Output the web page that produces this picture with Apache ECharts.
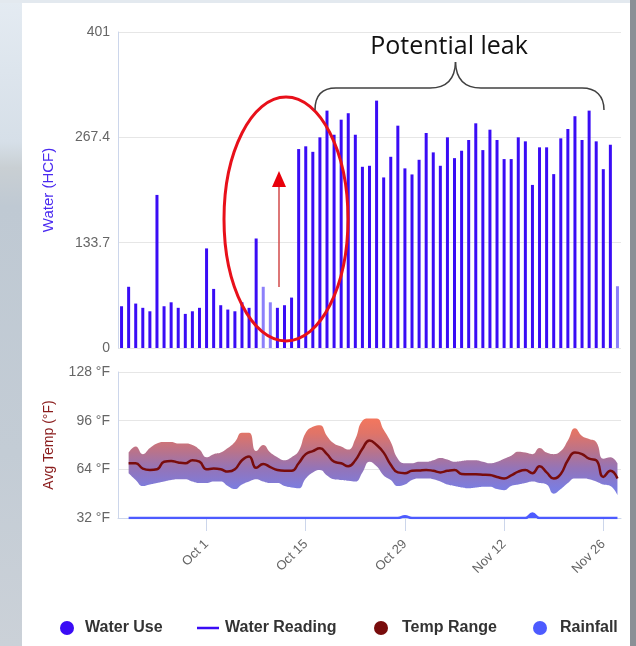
<!DOCTYPE html>
<html>
<head>
<meta charset="utf-8">
<title>Water use vs temperature</title>
<script src="https://cdn.jsdelivr.net/npm/echarts@6/dist/echarts.min.js"></script>
<style>
  html, body { margin: 0; padding: 0; background: #fff; }
  #chart { width: 636px; height: 646px; }
</style>
</head>
<body>
<div id="chart"></div>
<script>
// ---- data ----
// one bar per day, Sep 19 .. Nov 28
var startDay = new Date(2017, 8, 19);
var dayCount = 71;
var monthNames = ['Jan','Feb','Mar','Apr','May','Jun','Jul','Aug','Sep','Oct','Nov','Dec'];
var days = [];
for (var d = 0; d < dayCount; d++) {
  var dt = new Date(startDay.getTime() + d * 86400000);
  days.push(monthNames[dt.getMonth()] + ' ' + dt.getDate());
}
// dates that get a tick + label on the x axis
var dayLabels = ['Oct 1', 'Oct 15', 'Oct 29', 'Nov 12', 'Nov 26'];

// water use (HCF)
var waterUse = [53, 77.7, 56.4, 51, 46.6, 194.3, 53, 58, 51, 43.3, 46.6, 51, 126.4, 75, 54.3, 48.8, 46.6, 58, 51, 139,
  77.7, 58, 51, 54.3, 64, 252.5, 256, 249, 267.4, 301.3, 270.7, 289.8, 298, 270.7, 230, 231.3, 314, 216.5, 242.7, 282.2,
  228, 220.3, 238.9, 272.9, 248.3, 231.3, 267.4, 241, 250.4, 264, 285.2, 251.2, 277.1, 264, 239.8, 239.8, 267.4, 262.3, 207, 254.7,
  254.7, 220.7, 266.1, 278, 294.2, 264, 301.3, 262.3, 227, 258, 78.4];
// days drawn faded in the original
var fadedDays = [20, 21, 70];
// water reading series (shown in legend only)
var waterReading = [];

// temperatures (°F), no reading on the first day
var tempAvg = [null, 68, 68, 64.5, 63.6, 64, 69, 69.5, 68.5, 68, 70, 69, 64, 64.5, 64, 62.5, 64, 70, 72.5, 65, 67.5,
  65.5, 63.5, 63, 63, 68, 74, 76, 77.8, 74, 69, 68, 66, 70, 77.5, 83, 80, 75, 67, 62, 61.5,
  63, 63.3, 63.6, 63, 62, 63, 63.6, 61, 60.7, 60.7, 60.5, 60.2, 59, 58, 60, 62.5, 63.5, 61.5, 66, 62,
  58, 61, 70, 75, 74, 71, 70, 59, 63, 58];
var tempHigh = [null, 75, 79, 74, 78, 81, 82, 82, 81, 81, 80, 77, 72, 74, 75, 78, 82, 88, 88, 76, 80,
  75, 72, 70, 72, 76, 88, 92, 93, 86, 81, 79, 77, 84, 96, 97.5, 97.5, 90, 82, 71, 68,
  68, 69, 69, 70, 71.5, 70.5, 69, 69.5, 70, 70, 69, 68, 69, 71, 73, 75.6, 75, 74, 78, 75,
  74, 76, 83, 91, 86, 84, 82, 71, 72, 68];
var tempLow = [null, 61.4, 57, 53, 54, 55, 56, 57, 57.5, 57.5, 56, 55, 55, 56, 56, 53, 51, 54, 56, 57.5, 56,
  55, 55, 53, 52, 51.5, 58, 62, 63.6, 60, 57.5, 57, 56.5, 56, 62, 69, 66, 60, 57, 53, 54,
  57, 58, 58, 57.5, 56, 54, 53, 52, 51.5, 52, 52.5, 52.6, 51, 50.3, 53, 54, 55, 56, 55, 54,
  48, 51, 55, 58, 58, 57.5, 56, 54, 53, 47];
// rainfall (in)
var rainfall = [null, 0, 0, 0, 0, 0, 0, 0, 0, 0, 0, 0, 0, 0, 0, 0, 0, 0, 0, 0, 0,
  0, 0, 0, 0, 0, 0, 0, 0, 0, 0, 0, 0, 0, 0, 0, 0, 0, 0, 0, 0.05,
  0, 0, 0, 0, 0, 0, 0, 0, 0, 0, 0, 0, 0, 0, 0, 0, 0, 0.12, 0, 0,
  0, 0, 0, 0, 0, 0, 0, 0, 0, 0];

var waterTicks = ['0', '133.7', '267.4', '401'];
var tempTicks = ['32 °F', '64 °F', '96 °F', '128 °F'];

// band height for the stacked range area
var tempSpan = tempHigh.map(function (v, i) {
  return v == null ? null : +(v - tempLow[i]).toFixed(1);
});

var blue = '#3a0cf5';
var darkRed = '#780c0c';
var rainBlue = '#4d5bff';
var axisGrey = '#ccd6eb';
var labelStyle = { color: '#666', fontSize: 14, fontFamily: 'Liberation Sans, Arial, sans-serif' };
var legendText = { color: '#333', fontSize: 16, fontWeight: 'bold' };

var myChart = echarts.init(document.getElementById('chart'));

var option = {
  backgroundColor: '#fff',
  animation: false,
  textStyle: { fontFamily: 'Liberation Sans, Arial, sans-serif' },
  grid: [
    { left: 118, right: 15, top: 32, height: 316 },
    { left: 118, right: 15, top: 372, height: 146 }
  ],
  xAxis: [
    {
      type: 'category', gridIndex: 0, data: days,
      axisLine: { show: false }, axisTick: { show: false }, axisLabel: { show: false }
    },
    {
      type: 'category', gridIndex: 1, data: days,
      axisLine: { show: true, lineStyle: { color: axisGrey } },
      axisTick: {
        show: true, alignWithLabel: true, length: 13,
        lineStyle: { color: axisGrey },
        interval: function (idx, val) { return dayLabels.indexOf(val) >= 0; }
      },
      axisLabel: {
        show: true, rotate: 45, margin: 24,
        color: '#666', fontSize: 13,
        interval: function (idx, val) { return dayLabels.indexOf(val) >= 0; }
      }
    }
  ],
  yAxis: [
    {
      type: 'value', gridIndex: 0, min: 0, max: 401.1, interval: 133.7,
      name: 'Water (HCF)', nameLocation: 'middle', nameGap: 62, nameRotate: 90,
      nameTextStyle: { color: '#4a2af0', fontSize: 15 },
      axisLine: { show: true, lineStyle: { color: axisGrey } },
      axisTick: { show: false },
      axisLabel: Object.assign({ margin: 8, formatter: function (v, i) { return waterTicks[i]; } }, labelStyle),
      splitLine: { lineStyle: { color: '#e6e6e6' } }
    },
    {
      type: 'value', gridIndex: 1, min: 32, max: 128, interval: 32,
      name: 'Avg Temp (°F)', nameLocation: 'middle', nameGap: 62, nameRotate: 90,
      nameTextStyle: { color: '#8a1c1c', fontSize: 14 },
      axisLine: { show: true, lineStyle: { color: axisGrey } },
      axisTick: { show: false },
      axisLabel: Object.assign({ margin: 8, formatter: function (v, i) { return tempTicks[i]; } }, labelStyle),
      splitLine: { lineStyle: { color: '#e6e6e6' } }
    },
    {
      // rainfall, hidden scale
      type: 'value', gridIndex: 1, min: 0, max: 4, show: false,
      splitLine: { show: false }
    }
  ],
  legend: [
    {
      left: 60, top: 620, padding: 0,
      data: [{ name: 'Water Use', icon: 'circle', itemStyle: { color: blue } }],
      itemWidth: 14, itemHeight: 14,
      textStyle: Object.assign({ padding: [0, 0, 0, 6] }, legendText)
    },
    {
      left: 197, top: 620, padding: 0,
      data: [{ name: 'Water Reading', icon: 'path://M0,0 L22,0 L22,2.5 L0,2.5 Z' }],
      itemWidth: 22, itemHeight: 14,
      textStyle: Object.assign({ padding: [0, 0, 0, 1] }, legendText)
    },
    {
      left: 374, top: 620, padding: 0,
      data: [{ name: 'Temp Range', icon: 'circle' }],
      itemWidth: 14, itemHeight: 14,
      textStyle: Object.assign({ padding: [0, 0, 0, 9] }, legendText)
    },
    {
      left: 533, top: 620, padding: 0,
      data: [{ name: 'Rainfall', icon: 'circle' }],
      itemWidth: 14, itemHeight: 14,
      textStyle: Object.assign({ padding: [0, 0, 0, 8] }, legendText)
    }
  ],
  series: [
    {
      name: 'Water Use', type: 'bar', xAxisIndex: 0, yAxisIndex: 0,
      data: waterUse, barWidth: 3,
      itemStyle: {
        color: function (p) { return fadedDays.indexOf(p.dataIndex) >= 0 ? '#8c80fa' : blue; }
      }
    },
    {
      name: 'Water Reading', type: 'line', xAxisIndex: 0, yAxisIndex: 0,
      data: waterReading, showSymbol: false, itemStyle: { color: blue }
    },
    {
      name: 'Temp Low', type: 'line', xAxisIndex: 1, yAxisIndex: 1,
      data: tempLow, stack: 'band', smooth: true, symbol: 'none',
      lineStyle: { width: 0, opacity: 0 }, silent: true
    },
    {
      name: 'Temp Range', type: 'line', xAxisIndex: 1, yAxisIndex: 1,
      data: tempSpan, stack: 'band', smooth: true, symbol: 'none',
      itemStyle: { color: darkRed },
      lineStyle: { width: 0, opacity: 0 },
      areaStyle: {
        opacity: 1,
        color: {
          type: 'linear', x: 0, y: 372, x2: 0, y2: 518, global: true,
          colorStops: [
            { offset: 0.3, color: '#f7775c' },
            { offset: 0.42, color: '#e07468' },
            { offset: 0.55, color: '#b7738d' },
            { offset: 0.66, color: '#9474b8' },
            { offset: 0.8, color: '#7b7de0' },
            { offset: 1, color: '#707cf0' }
          ]
        }
      }
    },
    {
      name: 'Avg Temp', type: 'line', xAxisIndex: 1, yAxisIndex: 1,
      data: tempAvg, smooth: true, symbol: 'none', z: 4,
      lineStyle: { color: darkRed, width: 2.5 }, itemStyle: { color: darkRed }
    },
    {
      name: 'Rainfall', type: 'line', xAxisIndex: 1, yAxisIndex: 2,
      data: rainfall, smooth: true, symbol: 'none', z: 5,
      lineStyle: { color: rainBlue, width: 2.5 },
      itemStyle: { color: rainBlue },
      areaStyle: { color: rainBlue, opacity: 1 }
    }
  ],
  graphic: [
    // page backdrop around the card
    {
      type: 'rect', z: -10, shape: { x: 0, y: 0, width: 22, height: 646 },
      style: {
        fill: {
          type: 'linear', x: 0, y: 0, x2: 0, y2: 1,
          colorStops: [
            { offset: 0, color: '#e4ebf2' },
            { offset: 0.22, color: '#d6dfe8' },
            { offset: 0.26, color: '#c9cfd3' },
            { offset: 0.32, color: '#bfc9d3' },
            { offset: 0.7, color: '#c3ccd5' },
            { offset: 1, color: '#cbd1d8' }
          ]
        }
      }
    },
    { type: 'rect', z: -10, shape: { x: 0, y: 0, width: 636, height: 3 }, style: { fill: '#e3e9ef' } },
    { type: 'rect', z: -10, shape: { x: 630, y: 0, width: 6, height: 646 }, style: { fill: '#8a9096' } },
    // annotation: ellipse round the jump
    {
      type: 'ellipse', z: 100,
      shape: { cx: 286, cy: 219, rx: 62, ry: 122 },
      style: { fill: null, stroke: '#e8101a', lineWidth: 3 }
    },
    // arrow
    {
      type: 'line', z: 100,
      shape: { x1: 279, y1: 287, x2: 279, y2: 184 },
      style: { stroke: '#d24a4a', lineWidth: 1.5 }
    },
    {
      type: 'polygon', z: 100,
      shape: { points: [[279, 171], [272, 187], [286, 187]] },
      style: { fill: '#e8000b' }
    },
    // brace over the high readings
    { type: 'bezierCurve', z: 100, shape: { x1: 315, y1: 110, cpx1: 315, cpy1: 96, cpx2: 322, cpy2: 88, x2: 336, y2: 88 }, style: { stroke: '#404040', lineWidth: 1.5, fill: null } },
    { type: 'line', z: 100, shape: { x1: 336, y1: 88, x2: 430, y2: 88 }, style: { stroke: '#404040', lineWidth: 1.5 } },
    { type: 'bezierCurve', z: 100, shape: { x1: 430, y1: 88, cpx1: 446, cpy1: 88, cpx2: 455, cpy2: 80, x2: 455.5, y2: 62 }, style: { stroke: '#404040', lineWidth: 1.5, fill: null } },
    { type: 'bezierCurve', z: 100, shape: { x1: 455.5, y1: 62, cpx1: 456, cpy1: 80, cpx2: 465, cpy2: 88, x2: 481, y2: 88 }, style: { stroke: '#404040', lineWidth: 1.5, fill: null } },
    { type: 'line', z: 100, shape: { x1: 481, y1: 88, x2: 582, y2: 88 }, style: { stroke: '#404040', lineWidth: 1.5 } },
    { type: 'bezierCurve', z: 100, shape: { x1: 582, y1: 88, cpx1: 596, cpy1: 88, cpx2: 604, cpy2: 96, x2: 604, y2: 110 }, style: { stroke: '#404040', lineWidth: 1.5, fill: null } },
    {
      type: 'text', z: 100, x: 449, y: 47,
      style: {
        text: 'Potential leak', fill: '#111', font: '25px "Open Sans", sans-serif',
        textAlign: 'center', textVerticalAlign: 'middle'
      }
    }
  ]
};

myChart.setOption(option);
</script>
</body>
</html>
